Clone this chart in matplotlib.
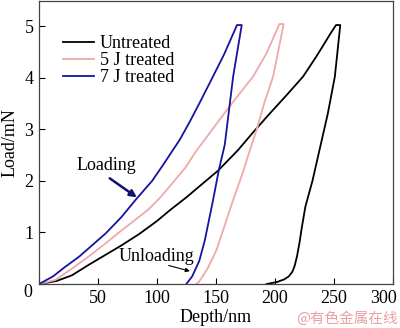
import matplotlib
matplotlib.use("Agg")
import matplotlib.pyplot as plt
from matplotlib.transforms import ScaledTranslation

plt.rcParams['font.family'] = ['Liberation Serif', 'DejaVu Serif']

# ---- data (depth in nm, load in mN) ----
untreated_load_depth = [0, 15, 28, 42, 56, 70, 85, 100, 111, 125, 139, 152, 169, 182, 196, 210, 224, 235, 241, 246.6, 252, 255.6]
untreated_load_force = [0, 0.06, 0.17, 0.37, 0.56, 0.75, 0.97, 1.22, 1.43, 1.68, 1.95, 2.2, 2.6, 2.95, 3.31, 3.66, 4.02, 4.4, 4.62, 4.83, 5.02, 5.02]
untreated_unload_depth = [255.6, 251, 245, 238, 232, 226, 223, 221, 219, 217, 215, 212, 208, 202, 193]
untreated_unload_force = [5.02, 4.02, 3.3, 2.6, 2.0, 1.5, 1.1, 0.8, 0.55, 0.36, 0.24, 0.15, 0.09, 0.04, 0]

j5_load_depth = [0, 14, 28, 42, 56, 70.6, 82, 93, 103, 113, 124, 134, 144, 153, 167, 181.6, 193, 204, 207.6]
j5_load_force = [0, 0.08, 0.3, 0.53, 0.78, 1.05, 1.25, 1.45, 1.68, 1.95, 2.25, 2.6, 2.9, 3.18, 3.6, 4.02, 4.47, 5.04, 5.04]
j5_unload_depth = [207.6, 198.6, 191, 184.5, 179, 172, 164.7, 157, 150.6, 143, 138, 135.5, 133.6]
j5_unload_force = [5.04, 4.02, 3.5, 2.98, 2.6, 2.1, 1.63, 1.1, 0.66, 0.3, 0.12, 0.04, 0]

j7_load_depth = [0, 12, 22, 34, 45, 56.5, 70, 83, 96, 105, 119.5, 128, 136, 146, 157, 168, 172]
j7_load_force = [0, 0.15, 0.33, 0.53, 0.75, 0.98, 1.3, 1.66, 2.0, 2.3, 2.8, 3.15, 3.5, 3.95, 4.45, 5.02, 5.02]
j7_unload_depth = [172, 164.7, 157.6, 152.5, 147.7, 140.7, 136, 130, 125]
j7_unload_force = [5.02, 4.02, 2.7, 2.2, 1.63, 0.85, 0.45, 0.15, 0]

labels = ['Untreated', '5 J treated', '7 J treated']
colors = ['#000000', '#f0a8a8', '#1414a0']
x_ticks = [0, 50, 100, 150, 200, 250, 300]
y_ticks = [0, 1, 2, 3, 4, 5]

fig = plt.figure(figsize=(4.0, 3.28), dpi=100)
ax = fig.add_axes([0.0975, 0.134, 0.884, 0.862])

series = [
    (untreated_load_depth + untreated_unload_depth[1:], untreated_load_force + untreated_unload_force[1:]),
    (j5_load_depth + j5_unload_depth[1:], j5_load_force + j5_unload_force[1:]),
    (j7_load_depth + j7_unload_depth[1:], j7_load_force + j7_unload_force[1:]),
]
for (d, f), lab, c in zip(series, labels, colors):
    ax.plot(d, f, color=c, lw=1.3, label=lab)

ax.set_xlim(0, 300)
ax.set_ylim(0, 5.48)
ax.set_xticks(x_ticks)
ax.set_xticklabels([''] + [str(v) for v in x_ticks[1:]])
ax.set_yticks(y_ticks)
ax.set_yticklabels([''] + [str(v) for v in y_ticks[1:]])
ax.tick_params(direction='in', length=4, width=0.8, labelsize=13, pad=4,
               top=False, right=False)
for s in ax.spines.values():
    s.set_color('#444444')
    s.set_linewidth(0.9)

# nudge the last x tick label so it stays inside the picture
last = ax.get_xticklabels()[-1]
last.set_transform(last.get_transform() + ScaledTranslation(-9 / 100, 0, fig.dpi_scale_trans))

ax.text(-0.02, -0.03, '0', transform=ax.transAxes, ha='right', va='center', fontsize=13)

ax.set_xlabel('Depth/nm', fontsize=13, labelpad=2)
ax.set_ylabel('Load/mN', fontsize=13, labelpad=4)

leg = ax.legend(loc='upper left', bbox_to_anchor=(0.068, 0.88), frameon=False,
                fontsize=13, handlelength=1.7, handletextpad=0.35,
                labelspacing=0.0, borderpad=0, borderaxespad=0)

ax.text(57, 2.29, 'Loading', fontsize=13, ha='center', va='center')
ax.annotate('', xy=(83, 1.68), xytext=(60, 2.05),
            arrowprops=dict(arrowstyle='-|>', color='#10106e', lw=1.8,
                            mutation_scale=10, shrinkA=0, shrinkB=0))
ax.text(100, 0.54, 'Unloading', fontsize=13, ha='center', va='center')
ax.annotate('', xy=(128, 0.25), xytext=(110, 0.36),
            arrowprops=dict(arrowstyle='-|>', color='black', lw=0.8,
                            mutation_scale=6, shrinkA=0, shrinkB=0))

fig.text(0.995, 0.028, '@有色金属在线', fontsize=10.5, color='#eaa0a0', ha='right',
         va='center', family=['Noto Sans CJK SC', 'DejaVu Sans'])

fig.savefig('out.png', dpi=100)
